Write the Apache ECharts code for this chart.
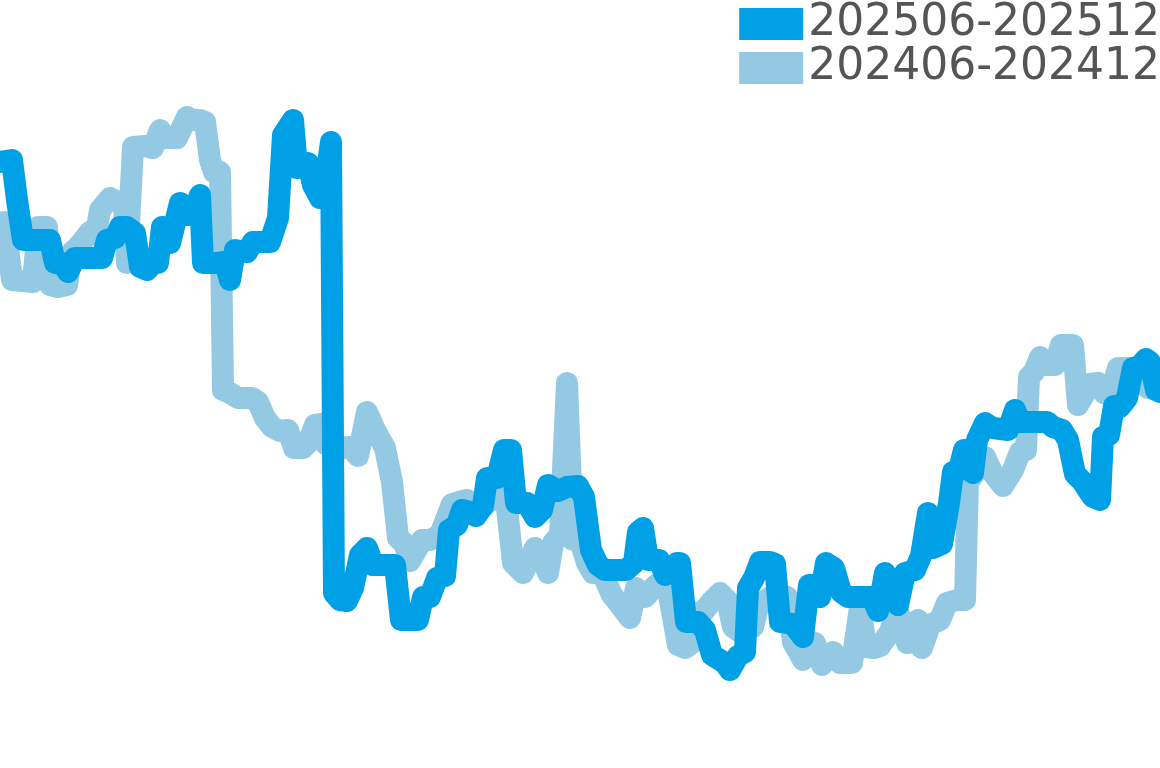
<!DOCTYPE html>
<html>
<head>
<meta charset="utf-8">
<script src="https://cdn.jsdelivr.net/npm/echarts@6/dist/echarts.min.js"></script>
<style>
html,body{margin:0;padding:0;background:#fff;}
#chart{width:1160px;height:768px;}
</style>
</head>
<body>
<div id="chart"></div>
<script>
const seriesNames = ['202506-202512', '202406-202412'];

const days2025 = [0,2.4,3.4,4.6,10,11,12.4,13.6,15,20.4,21.4,23,24,25.4,27,28,29.4,30.6,31.6,32.4,34,36,37.4,38.6,40,40.6,43.4,45,46,47,49.4,50.6,54,55.6,56.6,58.6,59.4,61.6,62.6,64,64.6,66.2,66.8,68,69.4,70.6,72,73.4,74.6,79,80.2,83.6,84.6,86,87.4,89,89.8,91.4,92.4,94,95.2,96.6,97.4,99.4,100.8,102.2,103.2,105.4,107,108.4,109.6,111.6,113.4,115.6,116.8,118.2,119.6,121,125.2,126.8,127.6,128.6,129.6,131.8,133,135.4,136,137.2,139.6,141,142.4,144,145,146,147.6,149,149.6,150.8,152,154,155,156,158.6,160.6,161.8,163,164,165.2,166.8,168.2,169.6,174.4,175.6,177,178.2,179.6,181,183,184.2,185.6,186.6,188.4,189.8,190.6,191.8,192.8,193.8,194.6,195.4,197,198.6,201.6,203,204,209.4,210.6,212.4,213.6,215,216.4,217.6,218.6,220,220.6,221.8,222.8,224,225.4,226.6,228,229.2,230,231.2,232];
const values2025 = [107.6,108,100,92,92,87.4,87.4,85.6,88.4,88.4,92,92.4,94.6,94.6,93.4,86.6,86,87.4,87.4,94.6,91.4,99.4,97,97.4,101,87.4,87.4,87.6,84,90,89.6,91.6,91.6,96.4,113,116,106.4,107.4,103,100.4,100.4,111.6,21.4,20,19.8,22.4,29,30.4,27,27,16,16,20.6,20.6,24.4,24.8,34,35,38,37.6,36.8,38.8,44.4,44.4,50,50,39.4,39.4,36.6,38,43,41.8,42.6,42.8,40.6,30,27,26,26,27.4,33.6,34.4,28,28,25,27.4,27.4,15.6,15.6,14,9,8,7.4,6,8.8,9.6,22.4,24.4,27.6,27.6,27.2,15.6,15.2,12.6,23,23,20.6,27.4,26.4,21.6,20.6,20.6,17.8,25.4,22.4,19,25.4,26,28.8,37.4,30.4,31.2,39.4,45.6,46,50,50,45.4,52,55.4,54.4,54,58,55.6,55.6,54.6,54,52,45.2,43.8,42,40.6,40,52.6,53,58.8,58.6,60.4,66.4,66.8,68.2,67.6,62,61.6];

const days2024 = [0,1,2.4,6.6,7.6,9.4,10,11.6,13.4,14.4,15.4,18,19.4,20,22,24.8,25.4,26.6,29,30.6,32,33,35.4,37.4,38.6,40,41,42,42.8,44,44.6,46,47.6,50.4,51.6,53,54.4,56,57.6,58.8,60.6,61.6,63,64.4,65.2,68,70,71.6,73.4,75,77,78.4,79.6,80.8,82,84.4,86,88,90.4,91.8,93.4,95.6,97.6,99.4,101,102.6,104.6,107,108,109.6,110.6,112,113.4,114.6,116,117.4,118.6,120.4,122.4,124,126,127.2,129,131.2,133.4,135.6,137,138.4,139.4,140.6,142.4,144,145.4,146.6,148,150.6,151.6,152.6,155.4,157.4,158.6,160.6,163,164.4,166.6,168,170.4,172,173.2,174.8,176,178,179.4,181.4,183,183.6,184.4,186,188,189.4,191.4,193,193.6,194.4,197,198.4,200.6,202.6,204,205.2,205.8,206.8,208,209.2,211,212.2,214.6,215.6,218,219.6,220.8,222.6,223.6,226,228.4,229.6,232];
const values2024 = [95.4,95.6,84,83.6,94.6,94.6,83,82.6,83,89.6,90.4,93.6,94.4,98,100.4,99,87.4,110.6,110.8,110.4,114,112.4,112.4,116.6,116,116,115.6,108,105.6,105.6,62,61.4,60.4,60.4,59.6,56.4,54.6,53.8,54,50.4,50.4,51.4,55,55.2,51.2,50.4,50.6,48.8,57.6,54,50.4,43.6,32.4,31.4,27.8,32,32,33,39.2,39.6,40,37.6,39.6,40.4,42,27.4,25.4,30.4,29.6,25.4,31.4,33,63.4,32,32,27.4,25.4,25.4,21,19,16.4,22.4,20.6,23,23.2,11,10.4,11.4,17.4,17.6,19.8,21.4,20,14.6,13.6,14.6,18.6,19.6,21.4,20.6,11.6,8,11.4,7,9.6,7.4,7.4,18.6,10.6,10.4,10.8,13.6,18.6,11.4,11.6,16,10.4,15,16,19.4,20,20,44.4,44.6,48.6,45.6,42.8,46,49.6,50,64.6,65.6,68.6,67,67,71,71,59,63.2,63.4,61.4,63,66.4,66.4,66.4,62.4,62];

const colors = ['#00A0E6', '#93C9E3'];

function pairs(xs, ys) { return xs.map((x, i) => [x, ys[i]]); }

const chart = echarts.init(document.getElementById('chart'), null, {renderer: 'canvas'});
chart.setOption({
  animation: false,
  color: colors,
  grid: {left: 0, right: 0, top: 100, bottom: 68, containLabel: false},
  legend: {
    data: seriesNames,
    orient: 'vertical',
    right: 0,
    top: 2,
    padding: 0,
    itemGap: 0,
    itemWidth: 64,
    itemHeight: 32,
    icon: 'rect',
    textStyle: {fontFamily: 'DejaVu Sans', fontSize: 44, color: '#555555', lineHeight: 44}
  },
  xAxis: {type: 'value', min: 0, max: 232, show: false},
  yAxis: {type: 'value', min: 0, max: 120, show: false},
  series: [
    {
      name: seriesNames[0], type: 'line', z: 3, showSymbol: false, symbol: 'none',
      data: pairs(days2025, values2025),
      lineStyle: {width: 22, color: colors[0], cap: 'round', join: 'round'},
      itemStyle: {color: colors[0]}
    },
    {
      name: seriesNames[1], type: 'line', z: 2, showSymbol: false, symbol: 'none',
      data: pairs(days2024, values2024),
      lineStyle: {width: 22, color: colors[1], cap: 'round', join: 'round'},
      itemStyle: {color: colors[1]}
    }
  ]
});
</script>
</body>
</html>
